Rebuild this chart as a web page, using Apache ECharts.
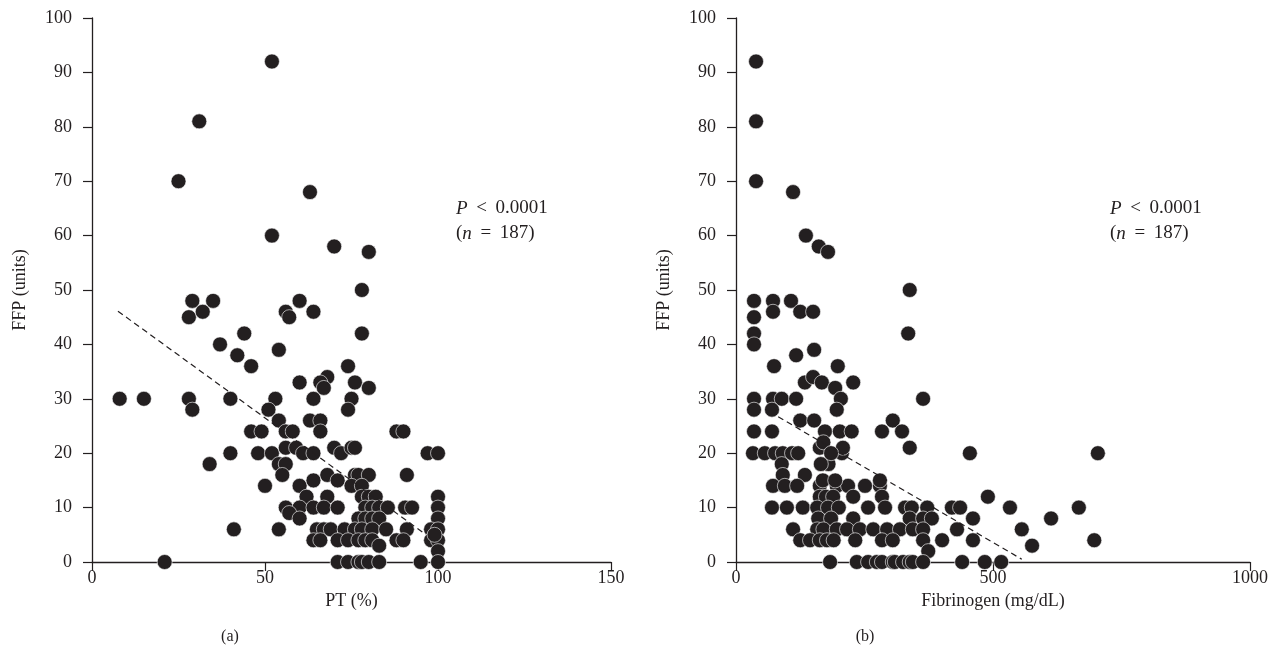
<!DOCTYPE html>
<html><head><meta charset="utf-8">
<script src="https://cdn.jsdelivr.net/npm/echarts@6/dist/echarts.min.js"></script>
<style>html,body{margin:0;padding:0;background:#fff}#c{width:1281px;height:669px}</style>
</head><body><div id="c"></div>
<script>
// Panel (a): PT (%) vs FFP (units)
const ptPoints = [
[52,92],[31,81],[25,70],[63,68],[52,60],[70,58],[80,57],[78,50],
[29,48],[35,48],[28,45],[32,46],[60,48],[56,46],[57,45],[64,46],
[78,42],[44,42],[37,40],[42,38],[46,36],[54,39],[74,36],
[76,33],[80,32],[68,34],[66,33],[67,32],[60,33],
[8,30],[15,30],[28,30],[40,30],[53,30],[64,30],[75,30],[29,28],[51,28],[74,28],
[54,26],[63,26],[66,26],
[46,24],[49,24],[56,24],[58,24],[66,24],[88,24],[90,24],
[40,20],[48,20],[52,20],[56,21],[59,21],[61,20],[64,20],[70,21],[72,20],[75,21],[76,21],[97,20],[100,20],
[34,18],[54,18],[56,18],[55,16],[68,16],[76,16],[77,16],[80,16],[91,16],
[50,14],[60,14],[64,15],[71,15],[75,14],[78,14],
[62,12],[68,12],[78,12],[80,12],[82,12],[100,12],
[56,10],[60,10],[64,10],[67,10],[71,10],[79,10],[81,10],[83,10],[85.5,10],[90.5,10],[92.5,10],[100,10],
[57,9],[60,8],[77,8],[79,8],[81,8],[83,8],[100,8],
[41,6],[54,6],[65,6],[67,6],[69,6],[73,6],[76,6],[78,6],[81,6],[85,6],[91,6],[98,6],[100,6],
[64,4],[66,4],[71,4],[74,4],[77,4],[79,4],[81,4],[88,4],[90,4],[98,4],[100,4],
[83,3],[100,2],[99,5],
[21,0],[71,0],[74,0],[77,0],[78,0],[80,0],[83,0],[95,0],[100,0]
];
const ptTrend = [[7.5,46.1],[95.5,5.5]];

// Panel (b): Fibrinogen (mg/dL) vs FFP (units)
const fibPoints = [
[39,92],[39,81],[39,70],[111,68],[136,60],[161,58],[179,57],[338,50],
[35,48],[72,48],[107,48],[35,45],[72,46],[125,46],[150,46],
[35,42],[335,42],[35,40],[117,38],[152,39],[74,36],[198,36],
[134,33],[150,34],[167,33],[193,32],[228,33],
[35,30],[72,30],[89,30],[117,30],[204,30],[364,30],
[35,28],[70,28],[196,28],
[125,26],[152,26],[305,26],
[35,24],[70,24],[173,24],[202,24],[225,24],[284,24],[323,24],
[33,20],[56,20],[76,20],[91,20],[109,20],[121,20],[163,21],[206,20],[208,21],[338,21],[455,20],[704,20],
[89,18],[91,16],[134,16],[170,22],[180,18],[165,18],[185,20],
[72,14],[95,14],[119,14],[163,14],[196,14],[218,14],[251,14],[280,14],[169,15],[193,15],[280,15],
[163,12],[175,12],[189,12],[228,12],[284,12],[490,12],
[70,10],[99,10],[130,10],[158,10],[179,10],[200,10],[257,10],[290,10],[329,10],[342,10],[372,10],[420,10],[436,10],[533,10],[667,10],
[160,8],[185,8],[228,8],[338,8],[364,8],[381,8],[461,8],[613,8],
[111,6],[158,6],[170,6],[196,6],[216,6],[241,6],[267,6],[294,6],[319,6],[344,6],[364,6],[430,6],[556,6],
[125,4],[144,4],[163,4],[177,4],[190,4],[232,4],[284,4],[305,4],[364,4],[401,4],[461,4],[697,4],
[576,3],[374,2],
[183,0],[235,0],[257,0],[274,0],[284,0],[305,0],[309,0],[325,0],[338,0],[344,0],[364,0],[440,0],[484,0],[516,0]
];
const fibTrend = [[82,26.7],[556,0.5]];

const yTicks = {min:0, max:100, interval:10};
const serif = '"Liberation Serif","DejaVu Serif",serif';
const ink = '#231f20';

function yAxis(gi){
  return {gridIndex:gi, type:'value', min:yTicks.min, max:yTicks.max, interval:yTicks.interval,
    name:'FFP (units)', nameLocation:'middle', nameGap:63, nameRotate:90,
    nameTextStyle:{fontFamily:serif, fontSize:18, color:ink},
    axisLine:{show:true, lineStyle:{color:ink, width:1.3}},
    axisTick:{show:true, length:9, lineStyle:{color:ink, width:1.2}},
    axisLabel:{fontFamily:serif, fontSize:18, color:ink, margin:20},
    splitLine:{show:false}};
}
function xAxis(gi, max, interval, name){
  return {gridIndex:gi, type:'value', min:0, max:max, interval:interval,
    name:name, nameLocation:'middle', nameGap:20,
    nameTextStyle:{fontFamily:serif, fontSize:18, color:ink},
    axisLine:{show:true, onZero:false, lineStyle:{color:ink, width:1.3}},
    axisTick:{show:true, length:9, lineStyle:{color:ink, width:1.2}},
    axisLabel:{fontFamily:serif, fontSize:18, color:ink, margin:7, formatter:(v)=>String(v)},
    splitLine:{show:false}};
}
const scatterStyle = {color:ink, opacity:1, borderColor:'#ffffff', borderWidth:0.6};
const pText = '{i|P} \u2009<\u2009 0.0001\n({i|n} \u2009=\u2009 187)';
const pStyle = {text:pText, fontFamily:serif, fontSize:19, lineHeight:25, fill:ink,
  rich:{i:{fontStyle:'italic', fontFamily:serif, fontSize:19, lineHeight:25}}};
const dashStyle = {color:ink, width:1.2, type:[6,4]};

const chart = echarts.init(document.getElementById('c'));
chart.setOption({
  animation:false,
  backgroundColor:'#ffffff',
  grid:[
    {left:92, top:18, width:519, height:544},
    {left:736, top:18, width:514, height:544}
  ],
  xAxis:[xAxis(0,150,50,'PT (%)'), xAxis(1,1000,500,'Fibrinogen (mg/dL)')],
  yAxis:[yAxis(0), yAxis(1)],
  series:[
    {type:'scatter', xAxisIndex:0, yAxisIndex:0, data:ptPoints, symbolSize:15, itemStyle:scatterStyle, z:3},
    {type:'line', xAxisIndex:0, yAxisIndex:0, data:ptTrend, symbol:'none', lineStyle:dashStyle, z:4},
    {type:'scatter', xAxisIndex:1, yAxisIndex:1, data:fibPoints, symbolSize:15, itemStyle:scatterStyle, z:3},
    {type:'line', xAxisIndex:1, yAxisIndex:1, data:fibTrend, symbol:'none', lineStyle:dashStyle, z:4}
  ],
  graphic:[
    {type:'text', left:456, top:196, style:pStyle},
    {type:'text', left:1110, top:196, style:pStyle},
    {type:'text', x:230, y:637, style:{text:'(a)', fontFamily:serif, fontSize:16, fill:ink, align:'center', verticalAlign:'middle'}},
    {type:'text', x:865, y:637, style:{text:'(b)', fontFamily:serif, fontSize:16, fill:ink, align:'center', verticalAlign:'middle'}}
  ]
});
</script></body></html>
